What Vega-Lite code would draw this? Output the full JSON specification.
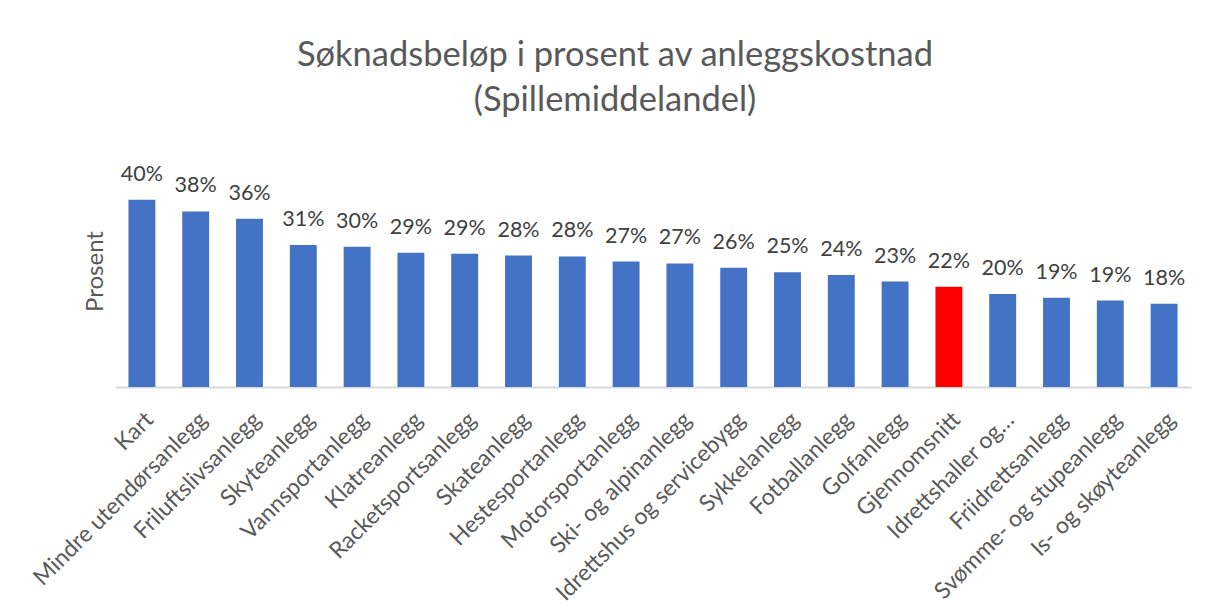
{
  "$schema": "https://vega.github.io/schema/vega-lite/v6.json",
  "autosize": {"type": "none"},
  "width": 1076,
  "height": 209,
  "padding": {"left": 115, "top": 178, "right": 15, "bottom": 221},
  "background": "white",
  "config": {"view": {"stroke": null}},
  "title": {
    "text": ["Søknadsbeløp i prosent av anleggskostnad", "(Spillemiddelandel)"],
    "font": "Lato",
    "fontSize": 34.5,
    "fontWeight": "normal",
    "color": "#595959",
    "anchor": "middle",
    "frame": "group",
    "dx": -38,
    "offset": 45,
    "lineHeight": 45
  },
  "data": {
    "values": [
      {"kategori": "Kart", "andel": 0.403, "gruppe": "Anlegg"},
      {"kategori": "Mindre utendørsanlegg", "andel": 0.378, "gruppe": "Anlegg"},
      {"kategori": "Friluftslivsanlegg", "andel": 0.362, "gruppe": "Anlegg"},
      {"kategori": "Skyteanlegg", "andel": 0.306, "gruppe": "Anlegg"},
      {"kategori": "Vannsportanlegg", "andel": 0.302, "gruppe": "Anlegg"},
      {"kategori": "Klatreanlegg", "andel": 0.289, "gruppe": "Anlegg"},
      {"kategori": "Racketsportsanlegg", "andel": 0.287, "gruppe": "Anlegg"},
      {"kategori": "Skateanlegg", "andel": 0.283, "gruppe": "Anlegg"},
      {"kategori": "Hestesportanlegg", "andel": 0.281, "gruppe": "Anlegg"},
      {"kategori": "Motorsportanlegg", "andel": 0.270, "gruppe": "Anlegg"},
      {"kategori": "Ski- og alpinanlegg", "andel": 0.266, "gruppe": "Anlegg"},
      {"kategori": "Idrettshus og servicebygg", "andel": 0.257, "gruppe": "Anlegg"},
      {"kategori": "Sykkelanlegg", "andel": 0.247, "gruppe": "Anlegg"},
      {"kategori": "Fotballanlegg", "andel": 0.241, "gruppe": "Anlegg"},
      {"kategori": "Golfanlegg", "andel": 0.227, "gruppe": "Anlegg"},
      {"kategori": "Gjennomsnitt", "andel": 0.216, "gruppe": "Gjennomsnitt"},
      {"kategori": "Idrettshaller og…", "andel": 0.200, "gruppe": "Anlegg"},
      {"kategori": "Friidrettsanlegg", "andel": 0.192, "gruppe": "Anlegg"},
      {"kategori": "Svømme- og stupeanlegg", "andel": 0.186, "gruppe": "Anlegg"},
      {"kategori": "Is- og skøyteanlegg", "andel": 0.179, "gruppe": "Anlegg"}
    ]
  },
  "encoding": {
    "x": {
      "field": "kategori",
      "type": "nominal",
      "sort": null,
      "scale": {"paddingInner": 0.5, "paddingOuter": 0.25},
      "axis": {
        "title": null,
        "labelAngle": -45,
        "labelAlign": "right",
        "labelBaseline": "top",
        "labelPadding": 21,
        "labelFont": "Lato",
        "labelFontSize": 23,
        "labelColor": "#595959",
        "labelLimit": 500,
        "ticks": false,
        "domainColor": "#d9d9d9",
        "domainWidth": 2
      }
    },
    "y": {
      "field": "andel",
      "type": "quantitative",
      "scale": {"domain": [0, 0.45], "nice": false},
      "axis": {
        "labels": false,
        "ticks": false,
        "domain": false,
        "grid": false,
        "title": "Prosent",
        "titleFont": "Lato",
        "titleFontSize": 24,
        "titleFontWeight": "normal",
        "titleColor": "#595959",
        "titlePadding": 8,
        "titleY": 93
      }
    }
  },
  "layer": [
    {
      "mark": {"type": "bar"},
      "encoding": {
        "color": {
          "field": "gruppe",
          "type": "nominal",
          "scale": {"domain": ["Anlegg", "Gjennomsnitt"], "range": ["#4472C4", "#FF0000"]},
          "legend": null
        }
      }
    },
    {
      "mark": {"type": "text", "dy": -19, "baseline": "alphabetic", "font": "Lato", "fontSize": 21.5, "color": "#404040"},
      "encoding": {
        "text": {"field": "andel", "type": "quantitative", "format": ".0%"}
      }
    }
  ]
}
